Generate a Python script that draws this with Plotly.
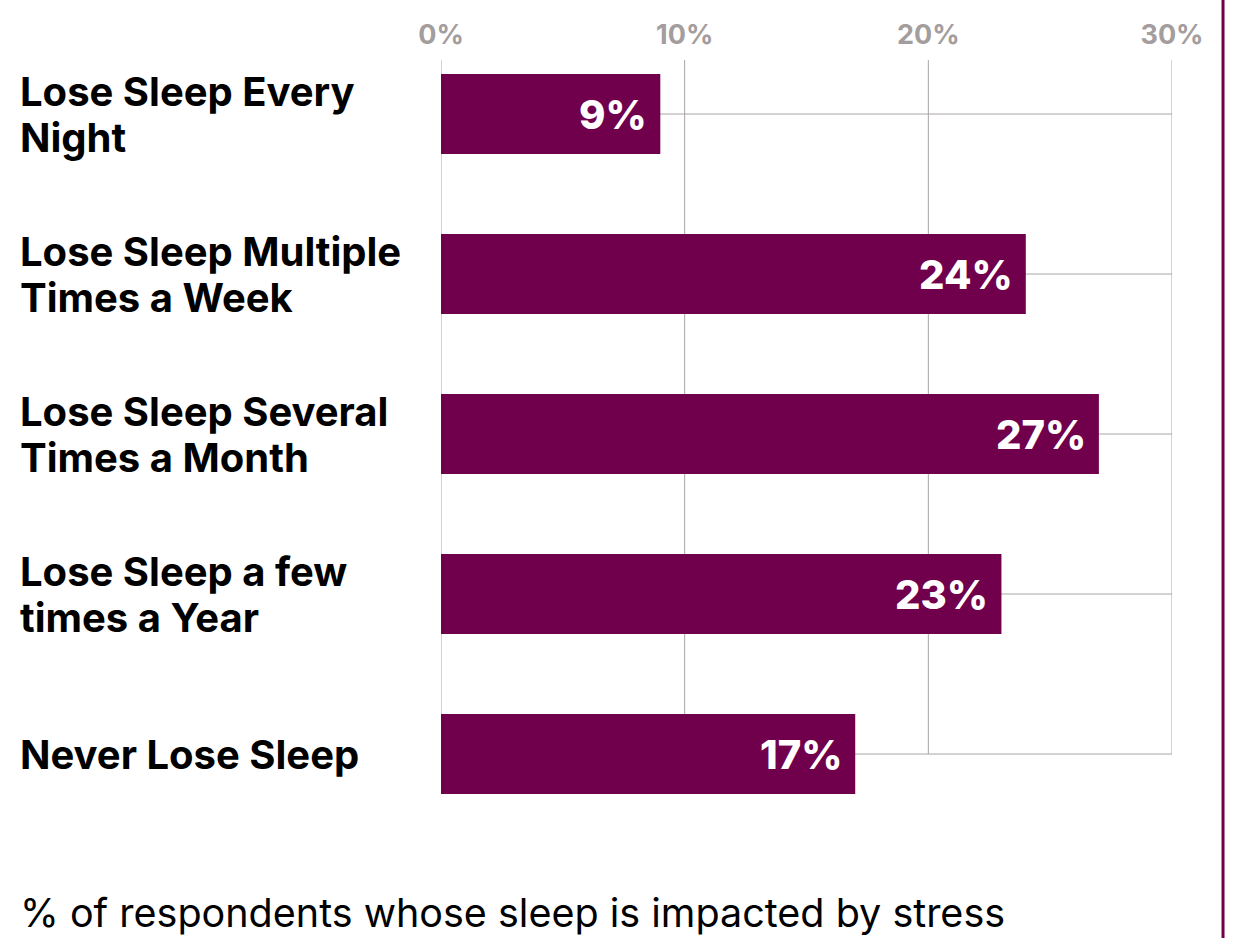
import plotly.graph_objects as go

categories = ["Lose Sleep Every<br>Night",
              "Lose Sleep Multiple<br>Times a Week",
              "Lose Sleep Several<br>Times a Month",
              "Lose Sleep a few<br>times a Year",
              "Never Lose Sleep"]
values = [9, 24, 27, 23, 17]
tick_vals = [0, 10, 20, 30]
tick_text = ["0%", "10%", "20%", "30%"]
footer = "% of respondents whose sleep is impacted by stress"

BAR = "#71004c"
GRID = "#aaa4a4"
FONT = "Inter"

idx = list(range(len(categories)))
y_top = -0.3375
y_bottom = 4.5

fig = go.Figure(go.Bar(
    x=values, y=idx, orientation="h", width=0.5,
    marker=dict(color=BAR, line=dict(width=0)),
    hoverinfo="skip",
))

shapes = []
for t in tick_vals:
    shapes.append(dict(type="line", xref="x", yref="y", x0=t, x1=t, y0=y_top, y1=idx[-1],
                       line=dict(color=GRID, width=1), layer="below"))
for i in idx:
    shapes.append(dict(type="line", xref="x", yref="y", x0=0, x1=tick_vals[-1], y0=i, y1=i,
                       line=dict(color=GRID, width=1), layer="below"))
# right purple rule
shapes.append(dict(type="line", xref="paper", yref="paper", x0=1.0698, x1=1.0698, y0=-0.2, y1=1.1,
                   line=dict(color=BAR, width=3)))

annotations = []
for i, (c, v) in enumerate(zip(categories, values)):
    lines = c.split("<br>")
    n = len(lines)
    for k, ln in enumerate(lines):
        shift = ((n - 1) / 2 - k) * 46
        annotations.append(dict(x=-0.578, xref="paper", y=i, yref="y", text=ln, showarrow=False,
                                xanchor="left", yanchor="middle", align="left", yshift=shift,
                                font=dict(family=FONT, size=40, color="#000000", weight=700)))
    annotations.append(dict(x=v, xref="x", y=i, yref="y", text=f"{v}%", showarrow=False,
                            xanchor="right", yanchor="middle", xshift=-11,
                            font=dict(family=FONT, size=40, color="#ffffff", weight=800)))
annotations.append(dict(x=-0.578, xref="paper", y=-0.1025, yref="paper", text=footer, showarrow=False,
                        xanchor="left", yanchor="middle", align="left",
                        font=dict(family=FONT, size=39.5, color="#000000", weight=400)))

fig.update_layout(
    width=1235, height=938,
    margin=dict(l=441, r=63, t=60, b=104),
    paper_bgcolor="white", plot_bgcolor="white",
    showlegend=False,
    shapes=shapes, annotations=annotations,
    xaxis=dict(range=[0, 30], side="top", tickvals=tick_vals, ticktext=tick_text,
               showgrid=False, zeroline=False, showline=False, ticks="",
               tickfont=dict(family=FONT, size=27, color="#a39d9d", weight=700),
               ticklabelstandoff=10, fixedrange=True),
    yaxis=dict(range=[y_bottom, y_top], showgrid=False, zeroline=False, showline=False,
               showticklabels=False, ticks="", fixedrange=True),
)

fig.write_html("out.html")
